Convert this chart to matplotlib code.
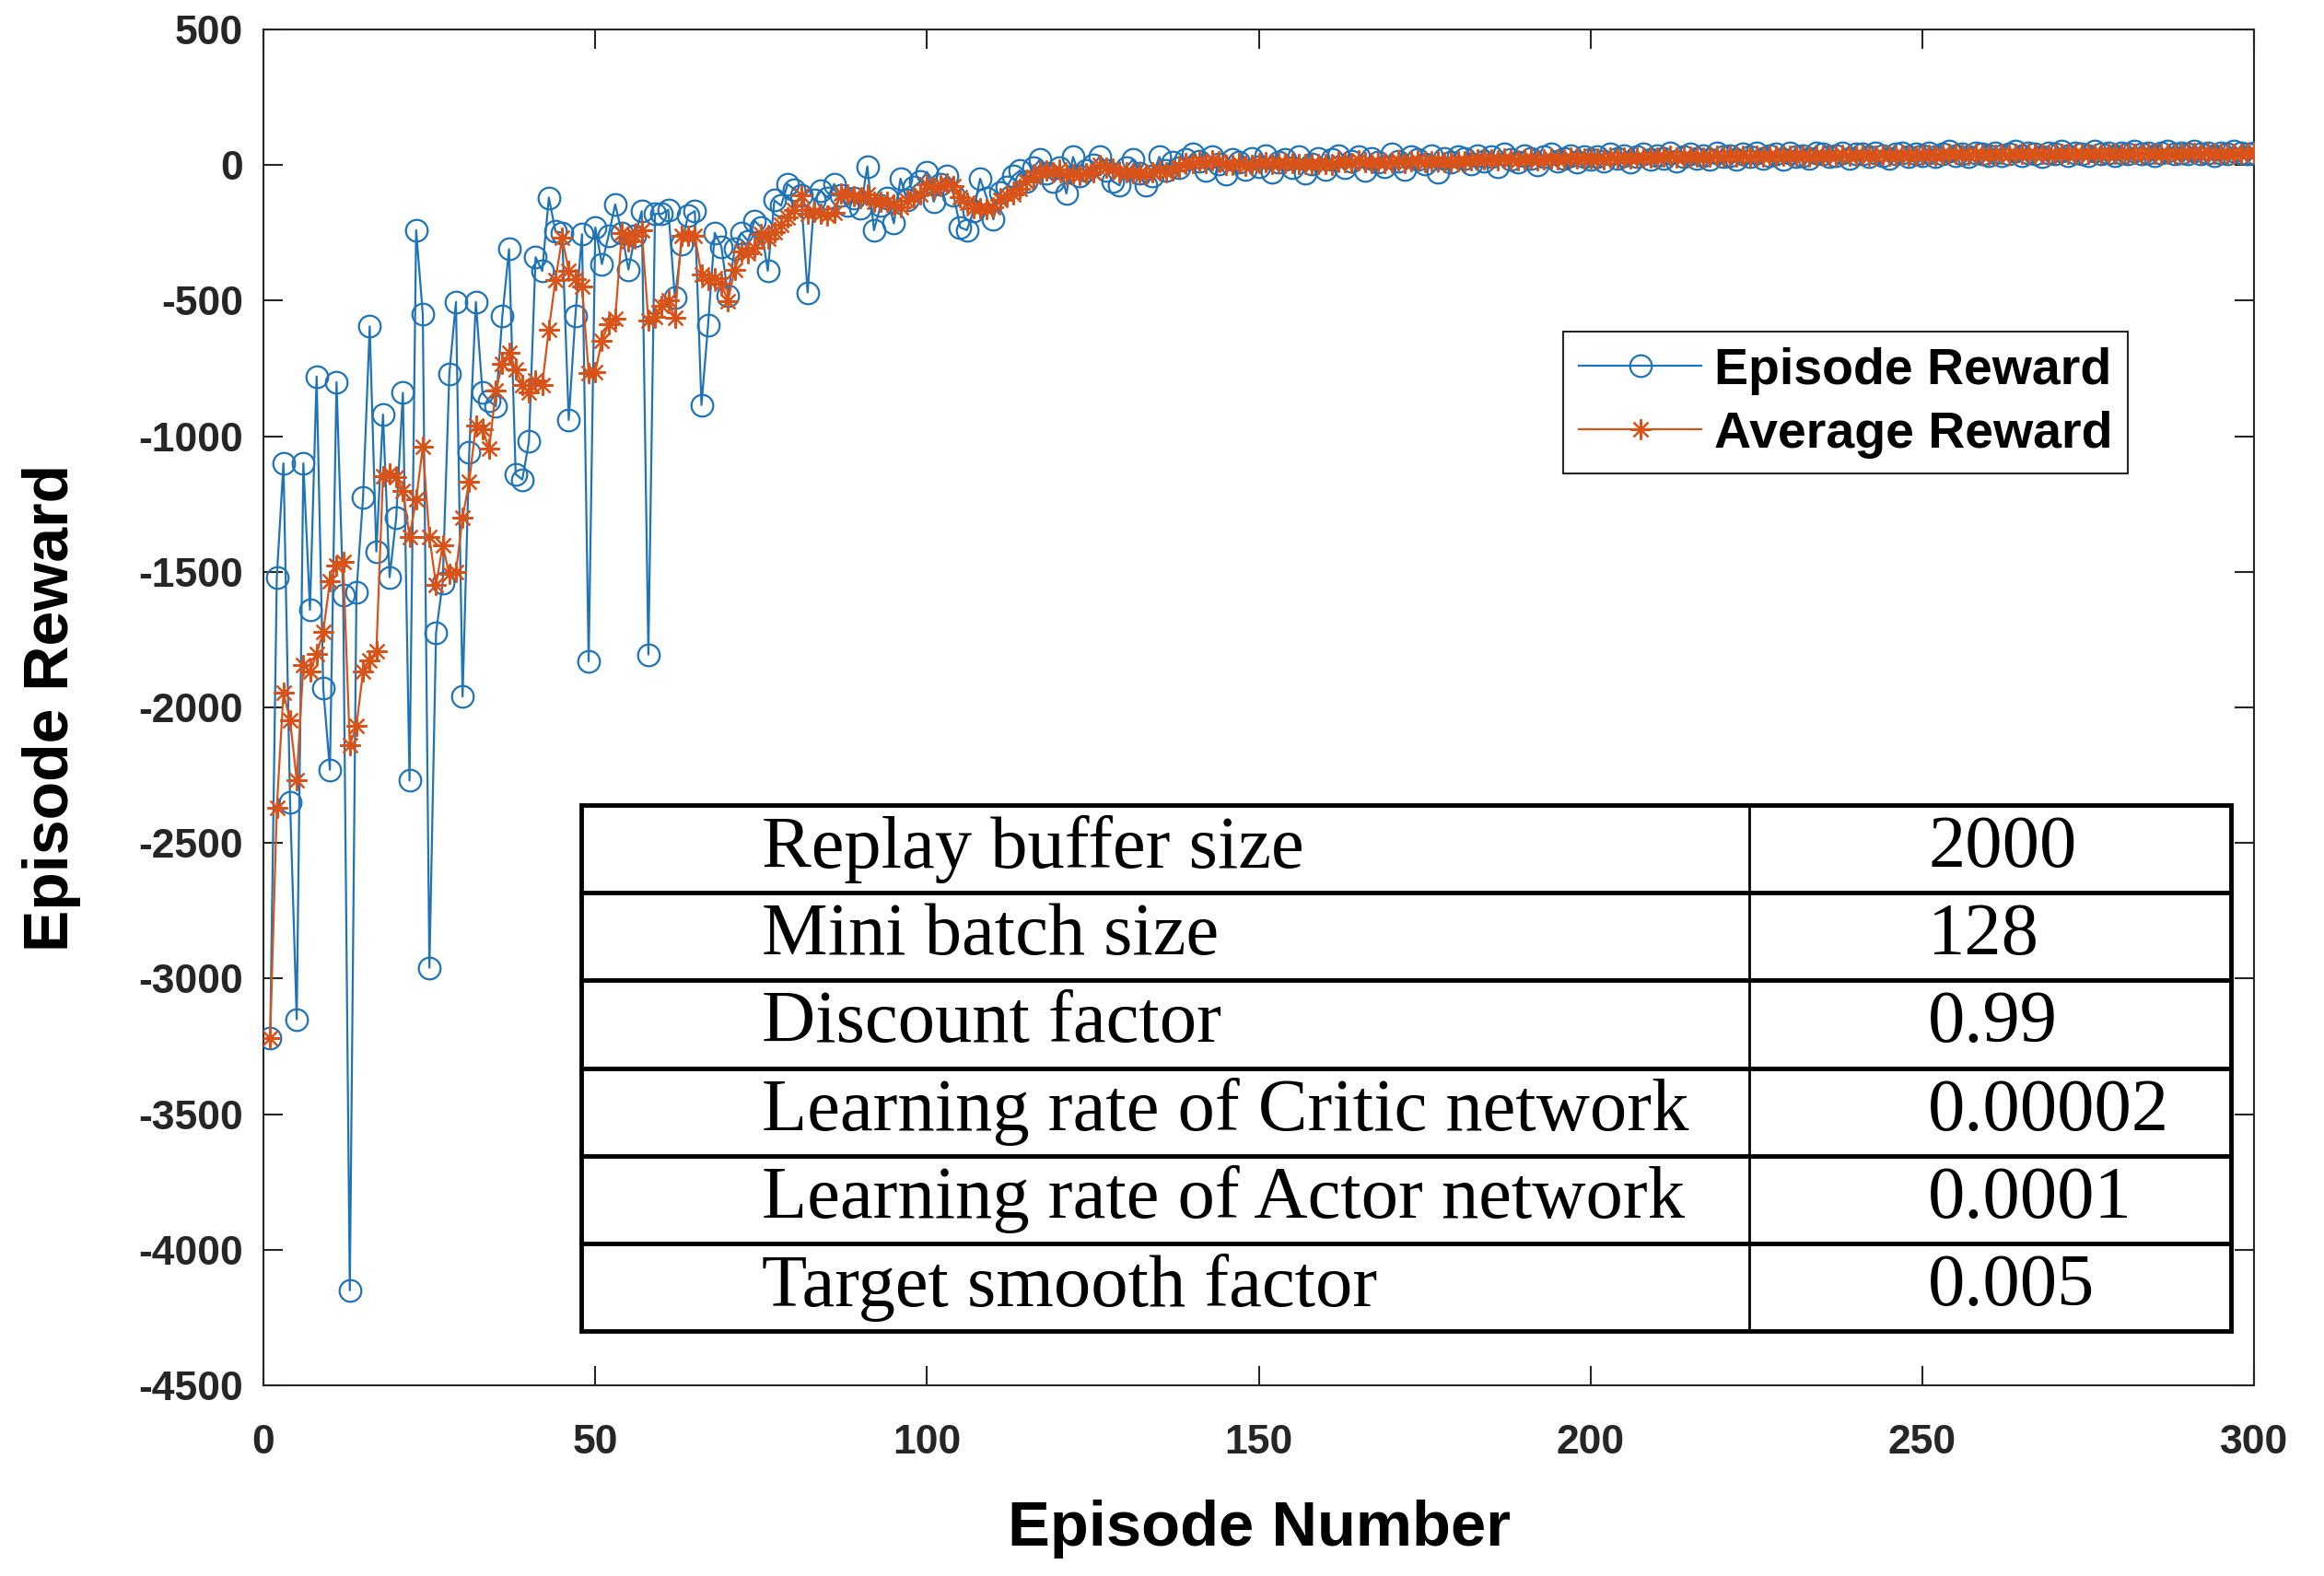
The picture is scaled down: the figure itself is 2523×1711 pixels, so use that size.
import numpy as np
import matplotlib
matplotlib.use('Agg')
import matplotlib.pyplot as plt

# Recompensa de cada episodio
ep_reward = [
    -3220, -1520, -1100, -2350, -3150, -1100, -1640, -780, -1930, -2230,
    -800, -1585, -4150, -1575, -1225, -595, -1425, -920, -1520, -1300,
    -840, -2270, -240, -550, -2960, -1725, -1540, -770, -505, -1960,
    -1060, -505, -840, -870, -890, -555, -310, -1140, -1160, -1020,
    -340, -390, -120, -245, -250, -940, -555, -255, -1830, -230,
    -365, -260, -145, -250, -385, -260, -170, -1805, -180, -180,
    -165, -490, -290, -185, -170, -885, -590, -250, -300, -480,
    -310, -250, -280, -205, -230, -390, -130, -150, -70, -90,
    -110, -470, -130, -95, -120, -70, -110, -150, -120, -160,
    -5, -240, -150, -120, -215, -50, -130, -80, -60, -25,
    -135, -70, -40, -110, -230, -240, -170, -50, -120, -200,
    -100, -80, -40, -20, -60, -10, 20, -30, -60, -10,
    -105, 30, -40, -20, 0, 30, -20, -60, -75, -10,
    20, -30, -75, -40, 30, -20, 10, -10, 20, 40,
    15, -20, 30, 5, -35, 20, 10, -15, 25, -5,
    35, -25, 10, 20, -10, 30, -30, 5, 25, -15,
    20, 35, -10, 15, 30, -20, 25, 10, -5, 40,
    15, -15, 30, 20, 5, 35, -25, 25, 10, 30,
    25, 5, 35, 15, 30, -5, 40, 20, 10, 35,
    25, 0, 30, 40, 15, 25, 35, 10, 30, 20,
    30, 15, 40, 25, 35, 10, 30, 40, 20, 35,
    25, 45, 15, 30, 40, 25, 35, 20, 45, 30,
    35, 20, 40, 30, 45, 25, 35, 40, 20, 45,
    30, 35, 25, 45, 40, 30, 35, 45, 25, 40,
    40, 30, 45, 35, 25, 40, 45, 30, 40, 35,
    45, 30, 40, 50, 35, 40, 30, 45, 40, 35,
    45, 35, 40, 50, 35, 45, 40, 30, 45, 40,
    50, 35, 45, 40, 35, 50, 40, 45, 35, 45,
    40, 50, 40, 45, 35, 45, 50, 40, 45, 40,
    50, 40, 45, 35, 45, 40, 50, 45, 40, 45,
]

# Recompensa promedio (curva naranja)
avg_reward = [
    -3220, -2370, -1947, -2048, -2268, -1844, -1868, -1804, -1720, -1536,
    -1476, -1465, -2139, -2068, -1867, -1826, -1794, -1148, -1137, -1152,
    -1201, -1370, -1234, -1040, -1372, -1549, -1403, -1509, -1500, -1300,
    -1167, -960, -974, -1047, -833, -732, -693, -753, -811, -837,
    -794, -810, -606, -423, -269, -389, -422, -449, -766, -762,
    -647, -588, -566, -250, -281, -260, -242, -574, -560, -519,
    -500, -564, -261, -262, -260, -404, -424, -416, -439, -501,
    -386, -318, -324, -305, -255, -271, -247, -221, -194, -166,
    -110, -178, -174, -179, -185, -177, -105, -109, -114, -122,
    -109, -135, -135, -135, -146, -155, -133, -119, -107, -69,
    -86, -74, -66, -76, -117, -138, -158, -160, -162, -156,
    -128, -110, -108, -88, -60, -42, -22, -20, -28, -18,
    -37, -35, -37, -29, -27, 0, -10, -14, -25, -27,
    -29, -31, -34, -27, -19, -27, -19, -6, 6, 8,
    15, 9, 17, 14, -1, 0, 6, -3, 1, 7,
    10, 3, 8, 7, 6, 5, 4, 3, 4, 3,
    1, 14, 11, 9, 18, 10, 8, 12, 8, 10,
    17, 9, 13, 18, 11, 15, 13, 12, 10, 15,
    13, 19, 21, 22, 22, 16, 23, 20, 19, 20,
    26, 18, 20, 26, 22, 22, 29, 25, 23, 24,
    25, 21, 27, 26, 29, 25, 28, 28, 27, 27,
    30, 33, 28, 30, 31, 31, 29, 30, 33, 31,
    33, 30, 34, 31, 34, 32, 35, 35, 33, 33,
    34, 34, 31, 36, 35, 35, 35, 39, 35, 35,
    37, 36, 36, 38, 35, 35, 38, 35, 36, 38,
    39, 36, 38, 40, 40, 39, 39, 40, 38, 38,
    39, 40, 39, 41, 41, 41, 42, 40, 39, 40,
    41, 40, 43, 42, 41, 41, 42, 42, 41, 43,
    41, 43, 42, 44, 42, 43, 43, 43, 43, 44,
    45, 43, 44, 42, 43, 41, 43, 43, 44, 44,
]

episodes = np.arange(1, len(ep_reward) + 1)

# Tabla de hiperparametros
param_names = ['Replay buffer size', 'Mini batch size', 'Discount factor',
               'Learning rate of Critic network', 'Learning rate of Actor network',
               'Target smooth factor']
param_values = ['2000', '128', '0.99', '0.00002', '0.0001', '0.005']

x_ticks = [0, 50, 100, 150, 200, 250, 300]
y_ticks = [-4500, -4000, -3500, -3000, -2500, -2000, -1500, -1000, -500, 0, 500]

plt.rcParams['font.family'] = ['Liberation Sans', 'DejaVu Sans']
plt.rcParams['font.weight'] = 'bold'
plt.rcParams['axes.unicode_minus'] = False

fig = plt.figure(figsize=(25.23, 17.11), dpi=100)
ax = fig.add_axes([0.1134, 0.1210, 0.8565, 0.8603])

blue = '#1f73b7'
orange = '#d95319'
ax.plot(episodes, ep_reward, '-', color=blue, lw=1.6, marker='o', ms=17,
        mfc='none', mec=blue, mew=1.6, label='Episode Reward', zorder=3)
ax.plot(episodes, avg_reward, '-', color=orange, lw=1.6, marker=(8, 2, 0), ms=16,
        mec=orange, mew=1.6, label='Average Reward', zorder=4)

ax.set_xlim(0, 300)
ax.set_ylim(-4500, 500)
ax.set_xticks(x_ticks)
ax.set_yticks(y_ticks)
ax.tick_params(direction='in', length=15, width=1.5, labelsize=32, colors='#262626',
               top=True, right=True)
ax.tick_params(axis='x', pad=30)
ax.tick_params(axis='y', pad=16)
for lab in ax.get_xticklabels() + ax.get_yticklabels():
    lab.set_fontweight('bold')
for s in ax.spines.values():
    s.set_linewidth(1.5)
    s.set_color('#262626')

ax.set_xlabel('Episode Number', fontsize=49.5, fontweight='bold', labelpad=30)
ax.set_ylabel('Episode Reward', fontsize=49, fontweight='bold')
ax.yaxis.set_label_coords(-0.0916, 0.5)

leg = ax.legend(loc='upper left', bbox_to_anchor=(0.653, 0.777), borderaxespad=0,
                frameon=True, fancybox=False, framealpha=1,
                edgecolor='#262626', handlelength=2.4, handletextpad=0.25,
                labelspacing=0.3, borderpad=0.3,
                prop={'size': 40, 'weight': 'bold'})
leg.get_frame().set_linewidth(1.5)

# Tabla dibujada en coordenadas de los ejes
tx0, tx1 = 0.1596, 0.9884
ty0, ty1 = 0.040, 0.428
col_split = tx0 + 0.708 * (tx1 - tx0)
n_rows = len(param_names)
row_h = (ty1 - ty0) / n_rows
ax.add_patch(plt.Rectangle((tx0, ty0), tx1 - tx0, ty1 - ty0, transform=ax.transAxes,
                           facecolor='white', edgecolor='black', lw=3.5, zorder=10))
for i in range(1, n_rows):
    yy = ty1 - i * row_h
    ax.plot([tx0, tx1], [yy, yy], color='black', lw=3.5, transform=ax.transAxes,
            zorder=11, clip_on=False)
ax.plot([col_split, col_split], [ty0, ty1], color='black', lw=2, transform=ax.transAxes,
        zorder=11)
for i, (name, val) in enumerate(zip(param_names, param_values)):
    yc = ty1 - (i + 0.5) * row_h
    ax.text(tx0 + 0.0908, yc, name, transform=ax.transAxes, fontsize=58,
            family='Liberation Serif', fontweight='normal', va='center', ha='left', zorder=12)
    ax.text(col_split + 0.0898, yc, val, transform=ax.transAxes, fontsize=58,
            family='Liberation Serif', fontweight='normal', va='center', ha='left', zorder=12)

fig.savefig('out.png', dpi=100)
